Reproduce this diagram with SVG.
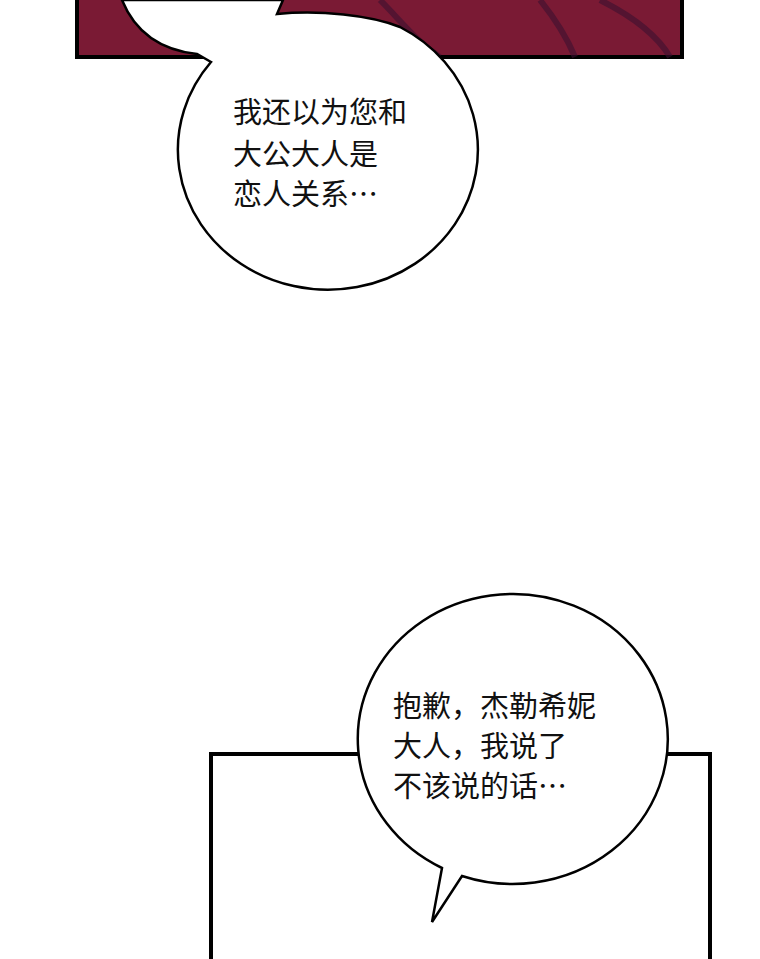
<svg xmlns="http://www.w3.org/2000/svg" width="760" height="959" viewBox="0 0 760 959">
<style>
.b{fill:#fff;stroke:#000;stroke-width:2.5}
.t{font-family:"Noto Sans CJK SC",sans-serif;font-size:29px;fill:#111}
</style>
<rect width="760" height="959" fill="#fff"/>
<g id="panel1">
<rect x="77" y="-5" width="605" height="62" fill="#7a1a34" stroke="#000" stroke-width="4"/>
<path d="M380,0 C400,20 420,45 440,57 M540,0 C560,25 570,45 575,57 M600,0 C640,20 660,40 670,57" fill="none" stroke="#3a1030" stroke-width="6" opacity="0.6"/>
</g>
<g id="bubble1">
<path class="b" d="M122,0 C135,32 160,50 197,54 L211,62 A150 140 0 1 0 400,27 C370,15 320,10 277,14 L283,0 Z"/>
<text class="t" x="233" y="123">我还以为您和</text>
<text class="t" x="233" y="165">大公大人是</text>
<text class="t" x="233" y="205">恋人关系…</text>
</g>
<g id="panel2">
<rect x="211" y="754" width="499" height="220" fill="#fff" stroke="#000" stroke-width="4"/>
</g>
<g id="bubble2">
<path class="b" d="M442,868 L432,922 L462,876 A155 145 0 1 0 442,868 Z"/>
<text class="t" x="393" y="717">抱歉，杰勒希妮</text>
<text class="t" x="393" y="757">大人，我说了</text>
<text class="t" x="393" y="797">不该说的话…</text>
</g>
<g id="connectors"/>
</svg>
